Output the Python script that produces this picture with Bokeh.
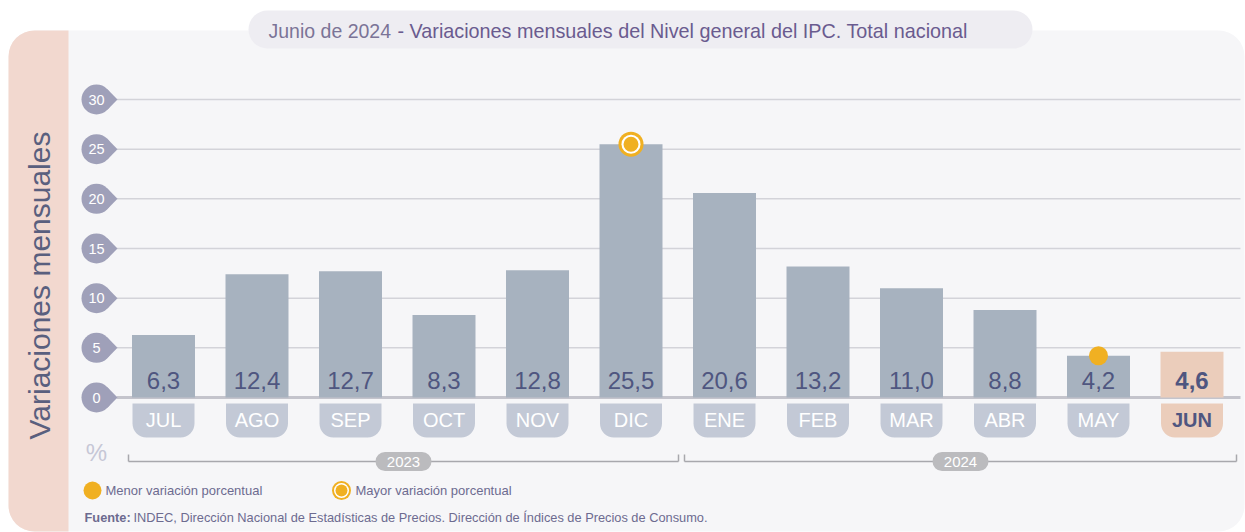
import numpy as np
from bokeh.plotting import figure
from bokeh.models import Range1d, BoxAnnotation, Label, ColumnDataSource
from bokeh.core.properties import value
from bokeh.embed import file_html
from bokeh.resources import INLINE

# ---------------- data ----------------
months = ["JUL", "AGO", "SEP", "OCT", "NOV", "DIC", "ENE", "FEB", "MAR", "ABR", "MAY", "JUN"]
years = ["2023", "2023", "2023", "2023", "2023", "2023", "2024", "2024", "2024", "2024", "2024", "2024"]
values = [6.3, 12.4, 12.7, 8.3, 12.8, 25.5, 20.6, 13.2, 11.0, 8.8, 4.2, 4.6]
y_ticks = [0, 5, 10, 15, 20, 25, 30]
title_date = "Junio de 2024"
title_main = "- Variaciones mensuales del Nivel general del IPC. Total nacional"
y_title = "Variaciones mensuales"
legend_min = "Menor variación porcentual"
legend_max = "Mayor variación porcentual"
source_bold = "Fuente:"
source_text = "INDEC, Dirección Nacional de Estadísticas de Precios. Dirección de Índices de Precios de Consumo."

# ---------------- layout helpers ----------------
W, H = 1245, 532
XPX0, STEP = 163.0, 93.5      # pixel of first category centre, pixels per category
Y0PX, YSC = 397.0, 9.933      # pixel of y=0, pixels per unit
xs = -XPX0 / STEP
xe = xs + W / STEP
ye = Y0PX / YSC
ys = ye - H / YSC

def fx(px):
    return xs + px / STEP

def fy(py):
    return ye - py / YSC

FONT = "Liberation Sans"
BAR = "#a7b2bf"
HL = "#ebcdbb"
DARK = "#4f5680"
ORANGE = "#f0b022"

p = figure(width=W, height=H, x_range=Range1d(xs, xe), y_range=Range1d(ys, ye),
           output_backend="svg", toolbar_location=None,
           x_axis_location=None, y_axis_location=None, min_border=0)
p.grid.visible = False
p.outline_line_color = None
p.background_fill_color = "white"
p.border_fill_color = "white"

# card background and left strip
p.add_layout(BoxAnnotation(left=fx(8), right=fx(1244), top=fy(30), bottom=fy(531),
                           fill_color="#f6f6f8", fill_alpha=1, line_color=None,
                           border_radius=(26, 26, 26, 26), level="underlay"))
p.add_layout(BoxAnnotation(left=fx(8), right=fx(68), top=fy(30), bottom=fy(531),
                           fill_color="#f2d8cf", fill_alpha=1, line_color=None,
                           border_radius=(26, 0, 0, 26), level="underlay"))
# title pill
p.add_layout(BoxAnnotation(left=fx(248), right=fx(1032), top=fy(10), bottom=fy(48),
                           fill_color="#eeedf2", fill_alpha=1, line_color=None,
                           border_radius=(19, 19, 19, 19), level="underlay"))
p.add_layout(Label(x=fx(268), y=fy(30), text=title_date, text_font=FONT, text_font_size="19.5px",
                   text_color="#7b7497", text_baseline="middle", text_align="left"))
p.add_layout(Label(x=fx(397), y=fy(30), text=title_main, text_font=FONT, text_font_size="19.8px",
                   text_color="#6a5b8f", text_baseline="middle", text_align="left"))

# vertical title
p.add_layout(Label(x=fx(39), y=fy(285), text=y_title, angle=np.pi / 2, text_font=FONT,
                   text_font_size="30px", text_color="#5a5f7e", text_align="center",
                   text_baseline="middle"))

# gridlines
gx0, gx1 = fx(116), fx(1240)
grid_src = ColumnDataSource(dict(x0=[gx0] * len(y_ticks), x1=[gx1] * len(y_ticks), y=y_ticks,
                                 w=[3 if t == 0 else 1.5 for t in y_ticks],
                                 c=["#c4c4cc" if t == 0 else "#d3d3d9" for t in y_ticks]))
p.segment(x0="x0", y0="y", x1="x1", y1="y", line_width="w", line_color="c", source=grid_src)

# tick badges (teardrop)
r_px, tip_px, cx_px = 15.0, 21.0, 96.0
theta = np.arccos(r_px / tip_px)
xs_list, ys_list = [], []
for t in y_ticks:
    xs_list.append([fx(cx_px + r_px * np.cos(theta)), fx(cx_px + tip_px), fx(cx_px + r_px * np.cos(theta))])
    ys_list.append([t + r_px * np.sin(theta) / YSC, t, t - r_px * np.sin(theta) / YSC])
p.patches(xs_list, ys_list, fill_color="#9fa0b9", line_color=None)
p.scatter([fx(cx_px)] * len(y_ticks), y_ticks, size=2 * r_px, marker="circle",
          fill_color="#9fa0b9", line_color=None)
p.text([fx(cx_px)] * len(y_ticks), y_ticks, text=[str(t) for t in y_ticks],
       text_font=value(FONT), text_font_size="14.5px", text_color="white",
       text_align="center", text_baseline="middle")

# bars
idx = list(range(len(months)))
last = len(months) - 1
bar_colors = [HL if i == last else BAR for i in idx]
p.vbar(x=idx, top=values, bottom=0, width=63 / STEP, fill_color=bar_colors, line_color=None)

# value labels
lab_src = ColumnDataSource(dict(x=idx, y=[fy(380)] * len(idx),
                                t=[f"{v:.1f}".replace(".", ",") for v in values],
                                st=["bold" if i == last else "normal" for i in idx]))
p.text(x="x", y="y", text="t", source=lab_src, text_font=value(FONT), text_font_size="24px",
       text_font_style="st", text_color=DARK, text_align="center", text_baseline="middle")

# month tabs
half = 31 / STEP
for i in idx:
    p.add_layout(BoxAnnotation(left=i - half, right=i + half, top=fy(403), bottom=fy(437),
                               fill_color=HL if i == last else "#c3c9d6", fill_alpha=1,
                               line_color=None, border_radius=(0, 0, 14, 14)))
mon_src = ColumnDataSource(dict(x=idx, y=[fy(419)] * len(idx), t=months,
                                c=[DARK if i == last else "white" for i in idx],
                                st=["bold" if i == last else "normal" for i in idx]))
p.text(x="x", y="y", text="t", source=mon_src, text_font=value(FONT), text_font_size="20px",
       text_font_style="st", text_color="c", text_align="center", text_baseline="middle",
       level="overlay")

# "%"
p.add_layout(Label(x=fx(96), y=fy(452), text="%", text_font=FONT, text_font_size="24px",
                   text_color="#c6c7d6", text_align="center", text_baseline="middle"))

# year brackets
yrs = sorted(set(years))
brackets = {"2023": (128, 678), "2024": (684, 1236)}
by = fy(461)
for yr in yrs:
    a, b = brackets[yr]
    p.segment(x0=[fx(a), fx(a), fx(b)], y0=[by, by, by], x1=[fx(b), fx(a), fx(b)],
              y1=[by, fy(454), fy(454)], line_color="#a8a8ad", line_width=1.5)
    c = (a + b) / 2
    p.add_layout(BoxAnnotation(left=fx(c - 28), right=fx(c + 28), top=fy(451.5), bottom=fy(470.5),
                               fill_color="#bbbbbe", fill_alpha=1, line_color=None,
                               border_radius=(10, 10, 10, 10)))
    p.text([fx(c)], [fy(461.5)], text=[yr], text_font=value(FONT), text_font_size="15px",
           text_color="white", text_align="center", text_baseline="middle", level="overlay")

# highlight markers
imax = int(np.argmax(values))
imin = int(np.argmin(values))
p.scatter([imax], [values[imax]], size=25, fill_color=ORANGE, line_color=None)
p.scatter([imax], [values[imax]], size=19, fill_color="white", line_color=None)
p.scatter([imax], [values[imax]], size=15, fill_color=ORANGE, line_color=None)
p.scatter([imin], [values[imin]], size=19, fill_color=ORANGE, line_color=None)

# legend
p.scatter([fx(92)], [fy(490)], size=18, fill_color=ORANGE, line_color=None)
p.add_layout(Label(x=fx(105), y=fy(490), text=legend_min, text_font=FONT, text_font_size="13px",
                   text_color="#6d6b90", text_baseline="middle"))
p.scatter([fx(341)], [fy(490)], size=19, fill_color=ORANGE, line_color=None)
p.scatter([fx(341)], [fy(490)], size=15, fill_color="white", line_color=None)
p.scatter([fx(341)], [fy(490)], size=12, fill_color=ORANGE, line_color=None)
p.add_layout(Label(x=fx(355), y=fy(490), text=legend_max, text_font=FONT, text_font_size="13px",
                   text_color="#6d6b90", text_baseline="middle"))

# source
p.add_layout(Label(x=fx(84), y=fy(517), text=source_bold, text_font=FONT, text_font_size="12.8px",
                   text_font_style="bold", text_color="#6d6b90", text_baseline="middle"))
p.add_layout(Label(x=fx(133), y=fy(517), text=source_text, text_font=FONT, text_font_size="12.8px",
                   text_color="#6d6b90", text_baseline="middle"))

open("out.html", "w").write(file_html(p, INLINE))
